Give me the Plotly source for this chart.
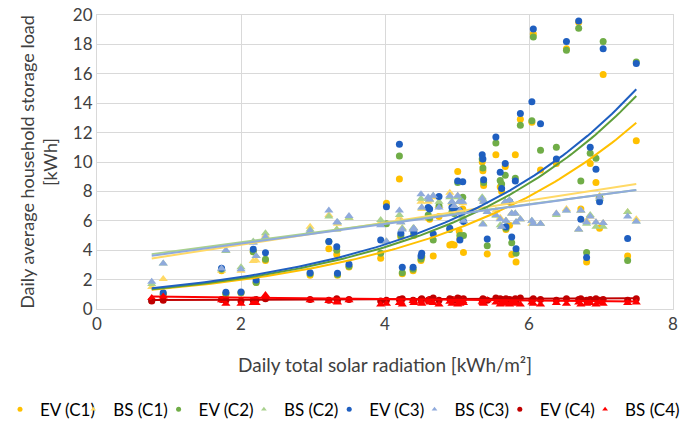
import numpy as np
import plotly.graph_objects as go

# Daily total solar radiation [kWh/m²]
radiation = [0.76, 0.92, 1.73, 1.79, 2.00, 2.17, 2.21, 2.34, 2.96, 3.22,
             3.33, 3.34, 3.50, 3.94, 4.02, 4.20, 4.22, 4.24, 4.39, 4.40,
             4.50, 4.51, 4.60, 4.62, 4.67, 4.75, 4.90, 4.93, 4.96, 5.01,
             5.03, 5.04, 5.08, 5.09, 5.35, 5.36, 5.37, 5.42, 5.54, 5.60,
             5.62, 5.67, 5.68, 5.73, 5.76, 5.81, 5.82, 5.88, 6.04, 6.06,
             6.16, 6.38, 6.52, 6.69, 6.72, 6.80, 6.85, 6.93, 6.98, 7.03,
             7.37, 7.49]

ev_c1 = [0.6, 1.0, 2.6, 1.0, 1.1, 3.9, 1.8, 3.3, 2.3, 4.1,
         3.7, 2.3, 2.85, 3.45, 7.2, 8.84, 4.9, 2.4, 2.6, 5.0,
         3.3, 3.5, 6.2, 6.1, 3.6, 6.3, 4.35, 4.4, 4.35, 9.35,
         5.3, 4.8, 6.8, 3.85, 10.0, 9.4, 8.4, 3.75, 10.5, 8.3,
         8.0, 9.7, 5.4, 5.7, 3.7, 10.5, 3.2, 12.9, 12.7, 18.7,
         9.45, 9.9, 17.7, 19.5, 6.8, 3.2, 9.9, 8.6, 5.5, 15.95,
         3.6, 11.45]
ev_c2 = [0.6, 1.0, 2.7, 1.05, 1.1, 3.9, 1.8, 3.38, 2.4, 4.6,
         4.0, 2.35, 2.9, 3.8, 5.8, 10.4, 5.0, 2.47, 2.7, 5.1,
         3.4, 3.6, 6.4, 6.2, 4.7, 7.0, 5.4, 6.6, 6.5, 8.6,
         6.7, 5.0, 7.6, 5.0, 10.2, 9.6, 8.6, 4.3, 11.3, 8.75,
         8.5, 9.1, 5.5, 7.3, 4.5, 8.9, 3.8, 12.5, 12.8, 18.5,
         10.8, 11.0, 17.6, 19.1, 8.7, 3.85, 10.6, 10.25, 7.6, 18.2,
         3.3, 16.8]
ev_c3 = [0.6, 1.1, 2.77, 1.14, 1.15, 4.06, 1.97, 3.83, 2.47, 4.6,
         4.24, 2.43, 3.04, 4.7, 6.96, 11.2, 5.15, 2.84, 2.84, 5.26,
         3.6, 3.8, 6.9, 6.8, 5.1, 7.65, 5.5, 6.9, 6.8, 8.7,
         6.7, 4.7, 8.65, 5.95, 10.5, 10.2, 8.8, 4.76, 11.7, 9.3,
         8.2, 9.9, 5.6, 7.3, 4.9, 8.7, 4.1, 13.3, 14.1, 19.05,
         12.6, 10.2, 18.2, 19.6, 6.1, 3.5, 11.0, 9.5, 7.3, 17.7,
         4.8, 16.7]
bs_c1 = [1.5, 2.04, 2.6, 3.95, 2.6, 3.27, 3.3, 5.0, 5.6, 6.4,
         5.4, 5.8, 6.2, 5.9, 4.6, 6.2, 5.9, 5.5, 5.4, 5.5,
         7.3, 6.8, 7.3, 7.4, 7.6, 7.0, 7.9, 7.2, 7.0, 7.7,
         7.3, 6.7, 7.2, 6.0, 7.5, 5.8, 7.3, 6.6, 6.7, 6.2,
         5.6, 7.3, 6.0, 7.4, 6.5, 6.5, 5.9, 6.1, 5.8, 5.8,
         5.8, 6.5, 6.8, 5.4, 6.7, 6.0, 6.3, 5.9, 7.7, 5.85,
         6.6, 6.1]
bs_c2 = [1.7, 3.1, 2.7, 3.95, 2.84, 4.6, 3.6, 5.15, 5.4, 6.3,
         5.4, 5.9, 6.2, 6.05, 4.6, 6.4, 5.9, 5.5, 5.5, 5.5,
         7.5, 6.9, 7.5, 7.45, 7.7, 7.3, 7.6, 7.3, 7.0, 7.6,
         7.3, 6.7, 6.3, 6.0, 7.6, 5.8, 7.4, 6.6, 6.35, 5.7,
         5.6, 7.3, 6.0, 7.4, 6.5, 6.5, 5.9, 6.1, 6.0, 5.8,
         5.8, 6.4, 6.7, 5.4, 6.7, 5.8, 6.4, 5.6, 7.5, 5.6,
         6.6, 5.95]
bs_c3 = [1.86, 3.1, 2.75, 4.0, 2.7, 4.5, 3.6, 4.9, 5.3, 6.7,
         5.9, 5.9, 6.33, 5.7, 4.6, 6.7, 5.9, 5.4, 5.4, 5.5,
         7.8, 6.9, 7.6, 7.45, 7.7, 6.9, 7.7, 7.3, 7.0, 7.7,
         7.3, 6.7, 7.3, 6.0, 7.5, 5.75, 7.3, 6.6, 6.4, 6.1,
         5.6, 7.3, 6.0, 7.4, 6.5, 6.5, 5.9, 6.1, 6.0, 5.8,
         5.8, 6.5, 6.7, 5.4, 6.7, 5.9, 6.3, 5.9, 7.6, 5.85,
         6.3, 5.95]
ev_c4 = [0.55, 0.6, 0.65, 0.6, 0.55, 0.6, 0.65, 0.7, 0.65, 0.6,
         0.7, 0.6, 0.65, 0.55, 0.6, 0.65, 0.6, 0.7, 0.6, 0.55,
         0.65, 0.7, 0.6, 0.65, 0.75, 0.6, 0.7, 0.65, 0.6, 0.75,
         0.7, 0.6, 0.65, 0.7, 0.6, 0.7, 0.65, 0.6, 0.75, 0.7,
         0.65, 0.6, 0.7, 0.65, 0.6, 0.7, 0.6, 0.75, 0.6, 0.7,
         0.65, 0.6, 0.7, 0.65, 0.7, 0.6, 0.65, 0.7, 0.6, 0.65,
         0.6, 0.7]
bs_c4 = [0.75, 0.85, 0.6, 0.35, 0.35, 0.4, 0.4, 0.95, 0.6, 0.55,
         0.5, 0.45, 0.6, 0.3, 0.35, 0.4, 0.5, 0.3, 0.55, 0.4,
         0.5, 0.35, 0.6, 0.45, 0.4, 0.3, 0.5, 0.35, 0.6, 0.3,
         0.45, 0.35, 0.55, 0.4, 0.5, 0.4, 0.35, 0.6, 0.45, 0.3,
         0.4, 0.5, 0.35, 0.3, 0.45, 0.4, 0.35, 0.3, 0.45, 0.35,
         0.3, 0.4, 0.35, 0.45, 0.3, 0.35, 0.4, 0.3, 0.45, 0.35,
         0.4, 0.45]

# Trendline parameters
# exponential y = a*exp(b*x) for EV, linear y = m*x + c for BS
ev_trend = {"C1": (1.010, 0.3377), "C2": (1.020, 0.3543), "C3": (1.076, 0.3513), "C4": (0.60, 0.025)}
bs_trend = {"C1": (0.7515, 2.87), "C2": (0.649, 3.24), "C3": (0.665, 3.118), "C4": (-0.050, 0.88)}

series_names = ["EV (C1)", "BS (C1)", "EV (C2)", "BS (C2)", "EV (C3)", "BS (C3)", "EV (C4)", "BS (C4)"]
marker_colors = ["#FFC000", "#FFD966", "#70AD47", "#A9D18E", "#1F5FC0", "#8FAADC", "#C00000", "#FF0000"]
line_colors = ["#FFC000", "#FFD966", "#5E9E3A", "#A9D18E", "#1F5FC0", "#8FAADC", "#C00000", "#FF0000"]

FONT = "Lato, Carlito, 'Liberation Sans', sans-serif"
TXT = "#404040"
W, H = 689, 426

fig = go.Figure()
values = [ev_c1, bs_c1, ev_c2, bs_c2, ev_c3, bs_c3, ev_c4, bs_c4]
legend_ids = ["legend"] + ["legend%d" % (k + 1) for k in range(1, 8)]
for i, (name, vals, col) in enumerate(zip(series_names, values, marker_colors)):
    is_bs = name.startswith("BS")
    sym = "triangle-up" if is_bs else "circle"
    fig.add_trace(go.Scatter(
        x=radiation, y=vals, mode="markers", name=name, showlegend=False,
        marker=dict(color=col, size=7 if not is_bs else 8, symbol=sym),
    ))
    # legend-only entry with the small key symbol used in the original legend
    fig.add_trace(go.Scatter(
        x=[None], y=[None], mode="markers", name=name, legend=legend_ids[i],
        marker=dict(color=col, size=5, symbol=sym),
    ))

xs = np.linspace(min(radiation), max(radiation), 120)
for i, name in enumerate(series_names):
    key = name[4:6]
    if name.startswith("EV"):
        a, b = ev_trend[key]
        ys = a * np.exp(b * xs)
    else:
        m, c = bs_trend[key]
        ys = m * xs + c
    fig.add_trace(go.Scatter(x=xs, y=ys, mode="lines", showlegend=False,
                             line=dict(color=line_colors[i], width=2), hoverinfo="skip"))

legend_common = dict(orientation="h", xref="container", yref="container",
                     xanchor="left", y=0.038, yanchor="middle",
                     font=dict(size=17, color="#000000"), itemwidth=30,
                     bgcolor="rgba(0,0,0,0)")

layout_legends = {}
for i, lid in enumerate(legend_ids):
    left_px = -12 + 85.3 * i
    layout_legends[lid] = dict(legend_common, x=left_px / W)

fig.update_layout(
    width=W, height=H,
    margin=dict(l=97, r=16, t=15, b=117, autoexpand=False),
    paper_bgcolor="white", plot_bgcolor="white",
    font=dict(family=FONT, size=18, color=TXT),
    showlegend=True,
    **layout_legends,
)
fig.update_xaxes(range=[0, 8], dtick=2, tick0=0, showgrid=True, gridcolor="#D9D9D9",
                 showline=True, linecolor="#D9D9D9", mirror=True, zeroline=False,
                 ticks="", tickfont=dict(size=17, color=TXT),
                 title=dict(text="Daily total solar radiation [kWh/m²]", font=dict(size=19, color=TXT), standoff=25))
fig.update_yaxes(range=[0, 20], dtick=2, tick0=0, showgrid=True, gridcolor="#D9D9D9",
                 showline=True, linecolor="#D9D9D9", mirror=True, zeroline=False,
                 ticks="", tickfont=dict(size=17, color=TXT),
                 title=dict(text="Daily average household storage load<br>[kWh]", font=dict(size=18, color=TXT), standoff=10))

fig.write_html("out.html")
